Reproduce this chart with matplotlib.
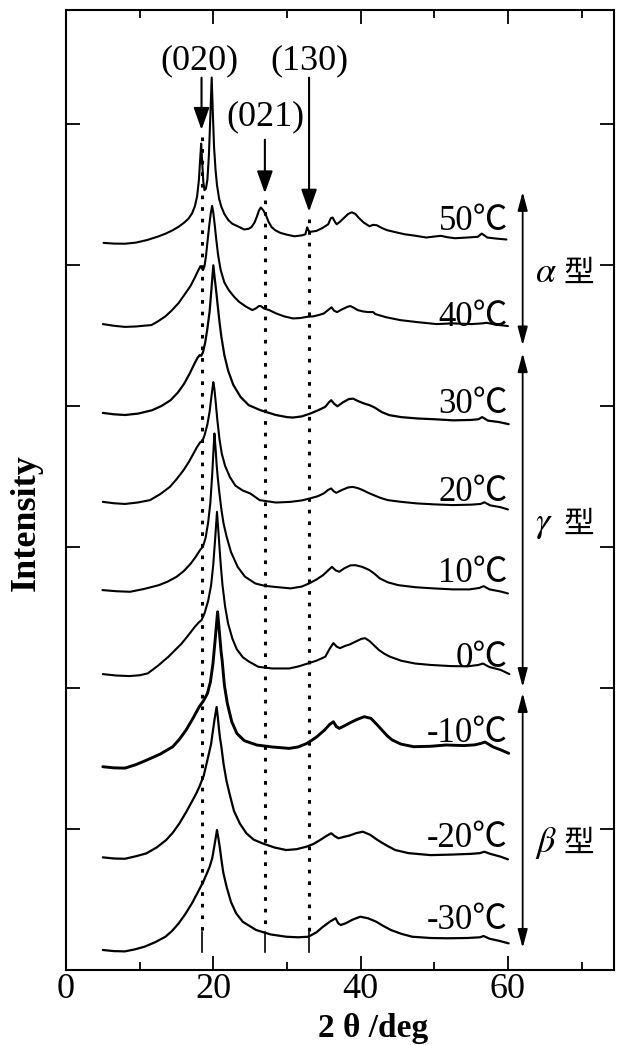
import matplotlib.pyplot as plt

plt.rcParams['font.family'] = ['Liberation Serif', 'Noto Sans CJK JP']
plt.rcParams['mathtext.fontset'] = 'stix'

temps = ['50℃', '40℃', '30℃', '20℃', '10℃', '0℃', '-10℃', '-20℃', '-30℃']
offsets = [5.158, 4.582, 3.952, 3.321, 2.695, 2.099, 1.442, 0.799, 0.142]
label_y = [5.25, 4.57, 3.95, 3.33, 2.75, 2.15, 1.62, 0.87, 0.29]
line_w = [1.5, 1.5, 1.6, 1.5, 1.5, 1.5, 2.1, 1.6, 1.6]

# 2theta / intensity (1 tick = 100) for each temperature
tt50 = [5.1, 6.5, 8.0, 9.5, 11.0, 12.5, 13.5, 14.5, 15.3, 16.0, 16.6, 17.1, 17.5, 17.8, 18.05, 18.2,
        18.35, 18.5, 18.65, 18.8, 19.0, 19.2, 19.4, 19.6, 19.78, 19.95, 20.1, 20.3, 20.5, 20.8, 21.1, 21.5,
        22.05, 22.6, 23.3, 24.2, 24.8, 25.2, 25.6, 25.9, 26.2, 26.45, 26.8, 27.15, 27.5, 27.9, 28.4, 29.1,
        30.0, 31.0, 32.0, 32.5, 32.75, 32.9, 33.15, 34.0, 34.8, 35.6, 35.95, 36.2, 36.5, 36.75, 37.2, 37.8,
        38.3, 38.8, 39.3, 39.7, 40.4, 41.2, 41.7, 42.2, 42.9, 43.6, 44.8, 46.0, 47.5, 48.9, 50.0, 50.9,
        51.8, 52.8, 54.5, 55.9, 56.45, 57.2, 58.5, 59.8]
i50 = [0, -0.5, -0.6, 0.2, 2.0, 4.5, 6.5, 9.0, 11.5, 14.2, 17.0, 20.8, 26.0, 33.0, 45.0, 58.0,
       70.4, 56.0, 43.0, 37.4, 38.5, 45.0, 62.0, 90.0, 117.3, 90.0, 68.0, 52.0, 41.0, 31.0, 25.5, 20.5,
       16.1, 13.5, 11.8, 9.5, 10.0, 11.3, 14.5, 18.4, 23.0, 25.1, 23.0, 19.6, 15.0, 11.3, 9.0, 7.1,
       5.8, 4.7, 5.3, 6.1, 11.0, 9.0, 7.8, 8.5, 10.5, 13.2, 17.5, 18.0, 15.0, 13.2, 15.0, 18.0,
       20.5, 21.7, 20.5, 18.0, 14.5, 11.8, 12.8, 12.5, 10.5, 9.0, 7.5, 6.1, 5.0, 3.8, 4.5, 5.0,
       4.0, 3.3, 3.8, 4.3, 6.6, 3.8, 3.0, 2.4]

tt40 = [5.0, 6.5, 8.0, 9.5, 10.5, 11.6, 12.5, 13.5, 14.4, 15.3, 16.2, 16.9, 17.55, 17.9, 18.25, 18.45,
        18.6, 18.8, 19.0, 19.2, 19.45, 19.65, 19.84, 20.0, 20.2, 20.4, 20.65, 21.0, 21.5, 22.1, 22.8, 23.5,
        24.4, 25.3, 25.8, 26.2, 26.45, 26.9, 27.6, 28.5, 29.6, 30.8, 31.8, 32.8, 33.6, 34.3, 35.0, 35.6,
        36.05, 36.4, 36.8, 37.5, 38.2, 38.6, 39.1, 39.6, 40.3, 41.0, 41.7, 42.0, 43.5, 45.4, 47.5, 50.3,
        52.5, 55.1, 56.5, 57.1, 58.5, 60.0]
i40 = [0, -1.2, -2.0, -1.7, -1.2, -0.7, 2.0, 5.5, 9.9, 15.0, 21.7, 27.0, 33.6, 37.5, 41.1, 39.5,
       38.3, 41.0, 48.0, 58.0, 70.0, 78.5, 83.9, 79.0, 70.0, 60.0, 49.0, 38.3, 29.5, 24.1, 19.5, 15.8,
       12.5, 9.9, 11.2, 12.8, 12.8, 11.0, 9.9, 7.6, 5.5, 4.0, 4.3, 5.2, 5.5, 6.4, 7.5, 10.0,
       11.9, 9.5, 8.5, 10.5, 12.2, 12.8, 11.5, 9.9, 9.0, 8.5, 8.5, 7.1, 4.8, 2.8, 1.5, 0,
       0.5, 0, 0.5, 0.9, -0.5, -1.4]

tt30 = [5.0, 6.5, 8.0, 9.8, 11.7, 13.0, 14.2, 15.2, 16.05, 16.8, 17.45, 17.85, 18.15, 18.35, 18.6, 18.9,
        19.2, 19.5, 19.75, 20.0, 20.2, 20.4, 20.6, 20.85, 21.1, 21.5, 22.0, 22.7, 23.7, 24.8, 26.4, 28.5,
        30.0, 30.8, 32.0, 33.2, 34.3, 35.2, 35.7, 36.0, 36.4, 36.85, 37.6, 38.4, 39.0, 39.6, 40.5, 41.2,
        41.9, 42.9, 43.9, 45.5, 47.8, 50.0, 52.6, 55.0, 56.0, 56.5, 57.3, 58.8, 60.1]
i30 = [0, -1.0, -1.5, -0.5, 1.9, 5.0, 9.0, 14.5, 20.8, 28.0, 35.0, 39.0, 41.0, 40.5, 43.0, 50.0,
       60.0, 72.0, 88.0, 104.7, 95.0, 86.0, 76.0, 64.0, 53.8, 41.0, 30.2, 20.0, 11.3, 5.5, 1.9, -1.5,
       -3.0, -3.3, -2.5, -0.4, 2.0, 4.3, 7.5, 9.0, 6.5, 4.7, 7.5, 9.8, 10.1, 8.5, 6.6, 5.5,
       3.8, 0.5, -1.6, -3.0, -4.0, -4.5, -5.3, -5.0, -4.5, -3.0, -5.5, -6.5, -8.0]

tt20 = [5.0, 6.5, 8.0, 9.7, 11.4, 12.8, 14.1, 15.0, 15.95, 16.7, 17.3, 17.8, 18.25, 18.5, 18.8, 19.2,
        19.5, 19.75, 20.0, 20.15, 20.3, 20.55, 20.85, 21.15, 21.6, 22.25, 23.0, 24.0, 25.0, 26.3, 28.5, 30.5,
        32.0, 33.1, 34.2, 35.0, 35.6, 36.0, 36.35, 36.7, 37.5, 38.3, 38.9, 39.6, 40.3, 41.0, 41.8, 42.7,
        43.7, 45.5, 47.6, 50.0, 52.5, 55.0, 56.3, 56.8, 57.6, 59.0, 60.0]
i20 = [0, -1.0, -1.5, -0.5, 1.2, 5.5, 10.6, 16.0, 22.4, 28.5, 34.2, 39.0, 42.5, 43.0, 47.0, 55.0,
       64.0, 75.0, 84.9, 80.0, 72.0, 57.9, 44.0, 34.2, 25.5, 17.6, 11.5, 8.0, 6.0, 1.2, -0.5, 0,
       1.0, 2.4, 4.0, 6.0, 8.5, 9.5, 7.5, 6.4, 8.5, 10.2, 10.6, 9.8, 8.3, 6.5, 4.7, 2.8,
       1.2, 0, -1.1, -1.8, -2.3, -2.0, -1.5, -0.3, -2.5, -3.8, -5.4]

tt10 = [4.95, 6.8, 8.7, 10.6, 12.6, 13.8, 15.0, 16.0, 16.95, 17.6, 18.2, 18.6, 18.95, 19.3, 19.6, 19.85,
        20.0, 20.15, 20.3, 20.45, 20.6, 20.8, 21.1, 21.4, 21.8, 22.4, 23.3, 24.3, 25.7, 27.0, 28.1, 30.5,
        32.0, 33.0, 34.0, 34.9, 35.6, 36.1, 36.6, 37.1, 37.8, 38.6, 39.25, 40.2, 41.2, 41.9, 42.6, 43.7,
        45.1, 47.5, 49.9, 52.5, 54.8, 56.1, 56.7, 57.5, 59.0, 60.0]
i10 = [0, -0.8, -1.2, 0.8, 3.5, 6.0, 9.4, 13.5, 18.9, 23.5, 28.4, 31.0, 37.0, 48.0, 62.0, 82.0,
       97.0, 111.1, 101.0, 89.0, 80.0, 70.0, 57.0, 47.0, 38.0, 27.0, 16.5, 9.5, 4.7, 3.0, 2.4, 1.2,
       2.5, 4.7, 7.5, 10.6, 14.0, 16.5, 14.0, 13.0, 15.5, 17.5, 17.7, 16.5, 14.2, 11.5, 8.3, 5.5,
       3.5, 2.0, 1.2, 0.5, 0.5, 1.5, 2.8, 0.5, -1.0, -2.4]

tt0 = [5.0, 6.8, 8.6, 10.0, 11.1, 12.5, 13.9, 14.8, 15.7, 16.6, 17.5, 18.0, 18.4, 18.8, 19.3, 19.7,
       20.0, 20.25, 20.5, 20.65, 20.8, 21.0, 21.25, 21.6, 22.0, 22.6, 23.2, 24.0, 24.8, 26.1, 28.0, 30.3,
       31.6, 32.8, 34.0, 35.2, 35.8, 36.3, 36.75, 37.2, 37.9, 38.5, 39.5, 40.1, 40.6, 41.2, 41.8, 42.5,
       43.2, 44.0, 45.5, 47.4, 49.5, 52.2, 54.5, 56.0, 56.6, 57.5, 59.0, 60.2]
i0 = [0, -1.0, -1.4, -0.8, 0.5, 6.0, 12.3, 17.0, 21.7, 27.5, 33.6, 36.5, 38.3, 43.0, 52.0, 63.0,
      78.0, 96.0, 115.1, 104.0, 93.0, 78.0, 63.0, 48.0, 36.0, 25.0, 17.5, 12.0, 9.0, 5.2, 4.0, 4.0,
      5.5, 7.5, 9.5, 12.3, 18.0, 22.0, 19.5, 18.4, 20.0, 21.0, 23.5, 25.0, 25.5, 23.5, 20.5, 17.0,
      14.5, 12.3, 9.5, 7.5, 6.5, 5.7, 5.5, 6.5, 7.5, 5.0, 3.0, 0]

tt_m10 = [5.0, 6.5, 8.0, 9.5, 11.0, 12.8, 14.5, 15.4, 16.3, 17.2, 18.1, 18.7, 19.2, 19.6, 19.95, 20.25,
          20.58, 20.75, 20.9, 21.05, 21.2, 21.5, 21.9, 22.5, 23.2, 24.2, 25.9, 28.0, 30.3, 31.5, 32.7, 34.0,
          35.1, 35.8, 36.3, 36.7, 37.1, 37.8, 38.5, 39.5, 40.5, 41.4, 42.2, 42.9, 43.6, 44.3, 45.5, 47.2,
          49.5, 51.6, 54.0, 55.5, 56.3, 56.9, 58.0, 59.0, 60.1]
i_m10 = [0, -0.8, -1.0, 1.5, 4.8, 9.0, 14.2, 19.5, 26.0, 34.0, 42.6, 47.0, 52.0, 60.0, 73.0, 90.0,
         109.9, 100.0, 91.0, 82.0, 75.4, 58.0, 45.0, 32.0, 23.6, 18.5, 15.4, 14.0, 13.0, 14.0, 16.5, 21.0,
         26.0, 30.0, 31.9, 28.5, 27.2, 29.0, 31.0, 33.5, 35.5, 34.3, 30.0, 26.0, 22.0, 18.9, 16.0, 14.2,
         14.5, 15.4, 15.0, 15.5, 16.5, 17.5, 14.0, 12.0, 9.5]

tt_m20 = [5.0, 6.5, 8.0, 9.5, 10.9, 12.3, 13.6, 14.5, 15.4, 16.3, 17.2, 17.7, 18.1, 18.7, 19.3, 19.7,
          19.95, 20.2, 20.45, 20.6, 20.75, 20.9, 21.1, 21.4, 21.8, 22.2, 22.8, 23.6, 24.5, 25.5, 26.7, 28.3,
          29.9, 31.3, 32.6, 33.6, 34.5, 35.3, 36.0, 36.5, 37.0, 37.7, 38.5, 39.4, 40.3, 41.3, 42.3, 43.5,
          44.7, 46.5, 49.5, 52.5, 55.0, 56.2, 56.8, 57.6, 59.0, 60.0]
i_m20 = [0, -0.8, -1.0, 0.8, 2.8, 7.0, 12.3, 17.5, 24.1, 32.0, 40.6, 45.5, 50.0, 58.0, 71.3, 80.5,
         90.0, 99.0, 106.7, 100.0, 92.0, 85.0, 78.3, 66.0, 54.0, 45.2, 33.0, 24.0, 17.0, 12.5, 9.9, 7.0,
         5.2, 5.8, 7.5, 9.5, 12.3, 15.0, 17.1, 15.0, 13.5, 14.5, 15.5, 17.2, 18.2, 16.0, 12.3, 8.5,
         5.2, 3.0, 1.6, 2.0, 2.5, 3.0, 4.0, 2.5, 0.5, -1.4]

tt_m30 = [5.0, 6.5, 8.0, 9.4, 10.7, 12.1, 13.5, 14.4, 15.3, 16.2, 17.1, 17.9, 18.6, 19.1, 19.5, 19.85,
          20.15, 20.5, 20.7, 20.9, 21.1, 21.35, 21.8, 22.4, 23.1, 24.0, 25.8, 27.8, 29.9, 31.5, 32.9, 34.0,
          34.9, 35.8, 36.6, 36.95, 37.3, 38.0, 38.9, 39.95, 41.0, 42.1, 43.1, 44.1, 45.5, 47.0, 49.5, 51.8,
          54.5, 56.2, 56.7, 57.5, 58.8, 60.1]
i_m30 = [0, -0.8, -1.0, 0.5, 2.4, 5.5, 9.4, 13.5, 18.9, 25.5, 33.1, 41.0, 48.0, 54.0, 59.0, 65.0,
         74.0, 85.1, 79.0, 72.0, 64.0, 55.0, 44.9, 34.0, 26.0, 20.0, 14.2, 11.0, 9.4, 9.0, 9.4, 12.5,
         16.5, 20.0, 22.5, 19.0, 17.7, 19.0, 21.5, 23.6, 22.5, 20.1, 17.0, 14.2, 11.5, 9.4, 8.5, 8.3,
         8.5, 9.0, 9.9, 8.0, 6.5, 4.7]

two_theta = [tt50, tt40, tt30, tt20, tt10, tt0, tt_m10, tt_m20, tt_m30]
intensity = [i50, i40, i30, i20, i10, i0, i_m10, i_m20, i_m30]

# reflections: label, 2theta, label position, arrow tail, arrow tip
hkl = ['(020)', '(021)', '(130)']
hkl_pos = [18.4, 27.0, 33.0]
hkl_text = [(18.1, 6.45), (27.1, 6.05), (33.0, 6.45)]
hkl_tail = [6.33, 5.89, 6.33]
hkl_tip = [5.96, 5.51, 5.38]

# crystal forms and their temperature ranges on the right
forms = [r'$\alpha$', r'$\gamma$', r'$\beta$']
form_span = [(5.52, 4.43), (4.376, 2.007), (1.965, 0.156)]
form_y = [4.94, 3.16, 0.90]

fig = plt.figure(figsize=(6.2, 10.45), dpi=100)
ax = fig.add_axes([66 / 620, 75 / 1045, 548 / 620, 960 / 1045])

for tt, inten, off, lw in zip(two_theta, intensity, offsets, line_w):
    ax.plot(tt, [off + v / 100 for v in inten], color='black', lw=lw,
            solid_joinstyle='round', solid_capstyle='round')

for name, y in zip(temps, label_y):
    ax.text(60, y, name, ha='right', va='baseline', fontsize=25)

for name, x, (tx, ty), tail, tip in zip(hkl, hkl_pos, hkl_text, hkl_tail, hkl_tip):
    ax.text(tx, ty, name, ha='center', va='center', fontsize=26)
    ax.annotate('', xy=(x, tip), xytext=(x, tail),
                arrowprops=dict(arrowstyle='-|>,head_length=0.9,head_width=0.32', color='black',
                                lw=1.5, shrinkA=0, shrinkB=0, mutation_scale=15))
    ax.plot([x, x], [tip - 0.05, 0.27], color='black', lw=2.2, linestyle=(0, (1.2, 2.6)))
    ax.plot([x, x], [0.27, 0.13], color='black', lw=1.2)

for g, (top, bot), y in zip(forms, form_span, form_y):
    ax.annotate('', xy=(62.0, bot), xytext=(62.0, top),
                arrowprops=dict(arrowstyle='<|-|>,head_length=0.75,head_width=0.2', color='black',
                                lw=1.3, shrinkA=0, shrinkB=0, mutation_scale=15))
    ax.text(63.7, y, g, ha='left', va='center', fontsize=26)
    ax.text(67.6, y, '型', ha='left', va='center', fontsize=22, family='Noto Sans CJK JP')

ax.set_xlim(0, 74.4)
ax.set_ylim(0, 6.81)
ax.set_xticks([0, 20, 40, 60])
ax.set_xticks([10, 30, 50, 70], minor=True)
ax.set_yticks([1, 2, 3, 4, 5, 6])
ax.set_yticklabels([])
ax.tick_params(which='both', direction='in', top=True, right=True, width=1.3)
ax.tick_params(which='major', length=10, labelsize=26, pad=2)
ax.tick_params(which='minor', length=5.5)
for s in ax.spines.values():
    s.set_linewidth(1.5)

fig.text(26 / 620, 1 - 523 / 1045, 'Intensity', rotation=90, ha='center', va='center',
         fontsize=26, fontweight='bold')
fig.text(373 / 620, 1 - 1028 / 1045, '2 θ /deg', ha='center', va='center',
         fontsize=24, fontweight='bold')

fig.savefig('out.png', dpi=100)
